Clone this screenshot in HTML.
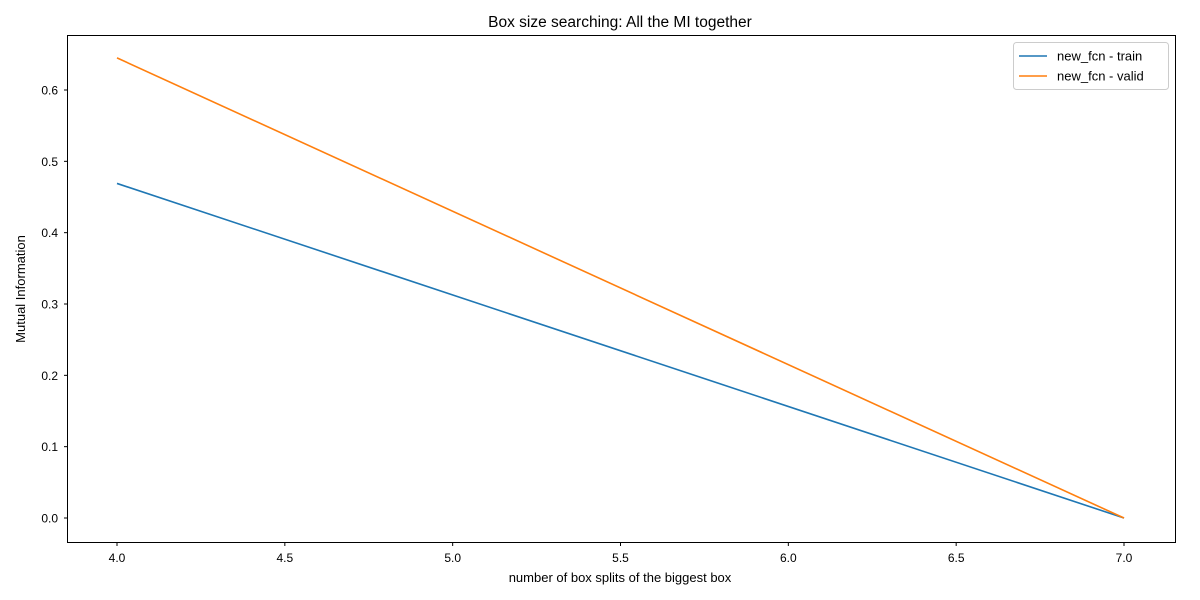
<!DOCTYPE html>
<html><head><meta charset="utf-8"><style>
body{margin:0;background:#fff;}
svg{display:block;font-family:"Liberation Sans","DejaVu Sans",sans-serif;}
</style></head><body>
<svg id="chart" width="1200" height="600" viewBox="0 0 1200 600">
<rect x="0" y="0" width="1200" height="600" fill="#fff"/>
<text x="620" y="27" text-anchor="middle" font-size="15.5">Box size searching: All the MI together</text>
<g id="ticks"></g>
<g id="lines"></g>
<rect x="67.5" y="35.5" width="1108" height="507" fill="none" stroke="#000" stroke-width="1"/>
<text x="620" y="582" text-anchor="middle" font-size="13">number of box splits of the biggest box</text>
<text transform="translate(25,289) rotate(-90)" text-anchor="middle" font-size="13">Mutual Information</text>
<g>
<rect x="1013.5" y="42.5" width="155" height="47" rx="3" fill="#fff" stroke="#ccc"/>
<line x1="1019" y1="56" x2="1047" y2="56" stroke="#1f77b4" stroke-width="1.6"/>
<text x="1057" y="60.5" font-size="13">new_fcn - train</text>
<line x1="1019" y1="76" x2="1047" y2="76" stroke="#ff7f0e" stroke-width="1.6"/>
<text x="1057" y="80.5" font-size="13">new_fcn - valid</text>
</g>
</svg>
<script>
const xValues=[4,7];
const trainValues=[0.469,0.0];
const validValues=[0.645,0.0];
const xTicks=[4.0,4.5,5.0,5.5,6.0,6.5,7.0];
const yTicks=[0.0,0.1,0.2,0.3,0.4,0.5,0.6];
const ns="http://www.w3.org/2000/svg";
function xs(v){return 117+(v-4)*(1124-117)/3;}
function ys(v){return 518-v*(518-90)/0.6;}
const tg=document.getElementById('ticks');
xTicks.forEach(t=>{
  const l=document.createElementNS(ns,'line');
  
  
  l.setAttribute('x1',xs(t));l.setAttribute('x2',xs(t));l.setAttribute('y1',542.5);l.setAttribute('y2',546);l.setAttribute('stroke','#000');
  tg.appendChild(l);
  const tx=document.createElementNS(ns,'text');
  
  
  tx.setAttribute('x',xs(t));tx.setAttribute('y',562);tx.setAttribute('text-anchor','middle');tx.setAttribute('font-size','12');
  tx.textContent=t.toFixed(1);tg.appendChild(tx);
});
yTicks.forEach(t=>{
  const l=document.createElementNS(ns,'line');
  
  
  l.setAttribute('x1',64);l.setAttribute('x2',67.5);l.setAttribute('y1',ys(t));l.setAttribute('y2',ys(t));l.setAttribute('stroke','#000');
  tg.appendChild(l);
  const tx=document.createElementNS(ns,'text');
  
  
  tx.setAttribute('x',58);tx.setAttribute('y',ys(t)+4.5);tx.setAttribute('text-anchor','end');tx.setAttribute('font-size','12');
  tx.textContent=t.toFixed(1);tg.appendChild(tx);
});
const lg=document.getElementById('lines');
function line(vals,color,name){
  const p=document.createElementNS(ns,'polyline');
  
  
  p.setAttribute('points',vals.map((v,i)=>xs(xValues[i])+','+ys(v)).join(' '));
  p.setAttribute('fill','none');p.setAttribute('stroke',color);p.setAttribute('stroke-width','1.6');
  lg.appendChild(p);
}
line(trainValues,'#1f77b4','train-line');
line(validValues,'#ff7f0e','valid-line');
</script>
</body></html>
